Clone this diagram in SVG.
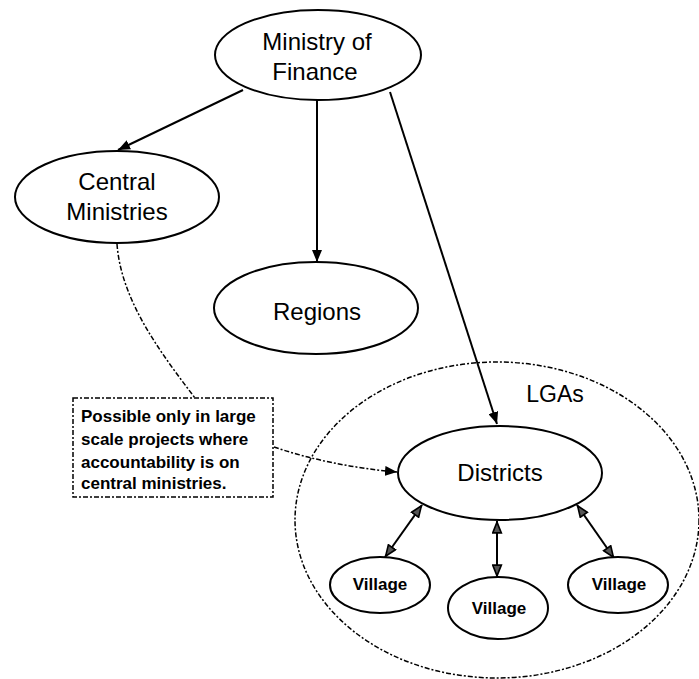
<svg xmlns="http://www.w3.org/2000/svg" width="699" height="679" viewBox="0 0 699 679">
<style>
.node{fill:#fff;stroke:#000;stroke-width:2}
.lbl{font-family:"Liberation Sans",Arial,sans-serif;fill:#000;text-anchor:middle}
.big{font-size:24px}
.vil{font-size:17px;font-weight:bold}
.note{font-family:"Liberation Sans",Arial,sans-serif;font-size:17px;font-weight:bold;fill:#000}
.arr{fill:none;stroke:#000;stroke-width:2}
.dash{fill:none;stroke:#000;stroke-width:1.5;stroke-dasharray:5 2 2 2}
</style>
<defs>
<marker id="ah" viewBox="0 0 12 10" refX="12" refY="5" markerWidth="12" markerHeight="10" markerUnits="userSpaceOnUse" orient="auto-start-reverse">
<path d="M0,0 L12,5 L0,10 z" fill="#000"/>
</marker>
<marker id="ah2" viewBox="0 0 12 10" refX="12" refY="5" markerWidth="13" markerHeight="11" markerUnits="userSpaceOnUse" orient="auto-start-reverse">
<path d="M1,1 L11,5 L1,9 z" fill="#555" stroke="#000" stroke-width="1.5"/>
</marker>
</defs>
<g id="lgas">
<ellipse cx="497" cy="520" rx="202" ry="158" class="dash"/>
<text x="555" y="402" class="lbl" style="font-size:23px">LGAs</text>
</g>
<g id="connectors">
<path d="M243,90 L118,150" class="arr" marker-end="url(#ah)"/>
<path d="M317,100 L317,262" class="arr" marker-end="url(#ah)"/>
<path d="M390,92 L497,424" class="arr" stroke-width="1.8" marker-end="url(#ah)"/>
<path d="M117,244 C121,300 160,352 195,398" class="dash"/>
<path d="M274,447 Q330,466 397,472" class="dash" marker-end="url(#ah)"/>
<path d="M422,505 L385,557" class="arr" marker-start="url(#ah2)" marker-end="url(#ah2)"/>
<path d="M497,521 L497,577" class="arr" marker-start="url(#ah2)" marker-end="url(#ah2)"/>
<path d="M577,505 L614,558" class="arr" marker-start="url(#ah2)" marker-end="url(#ah2)"/>
</g>
<g id="ministry-of-finance">
<ellipse cx="318" cy="55" rx="103" ry="45" class="node"/>
<text x="317" y="50" class="lbl big">Ministry of</text>
<text x="315" y="80" class="lbl big">Finance</text>
</g>
<g id="central-ministries">
<ellipse cx="117" cy="197" rx="102" ry="46" class="node"/>
<text x="117" y="190" class="lbl big">Central</text>
<text x="117" y="220" class="lbl big">Ministries</text>
</g>
<g id="regions">
<ellipse cx="316" cy="308" rx="102" ry="46" class="node"/>
<text x="317" y="320" class="lbl big">Regions</text>
</g>
<g id="note">
<rect x="73" y="398" width="200" height="99" fill="#fff" class="dash"/>
<text class="note"><tspan x="81" y="422">Possible only in large</tspan><tspan x="81" y="445">scale projects where</tspan><tspan x="81" y="468">accountability is on</tspan><tspan x="81" y="489">central ministries.</tspan></text>
</g>
<g id="districts">
<ellipse cx="500" cy="473" rx="102" ry="47" class="node"/>
<text x="500" y="481" class="lbl big">Districts</text>
</g>
<g id="village-left">
<ellipse cx="380" cy="585" rx="50" ry="28" class="node"/>
<text x="380" y="590" class="lbl vil">Village</text>
</g>
<g id="village-middle">
<ellipse cx="498" cy="608" rx="50" ry="31" class="node"/>
<text x="499" y="614" class="lbl vil">Village</text>
</g>
<g id="village-right">
<ellipse cx="618" cy="585" rx="50" ry="28" class="node"/>
<text x="619" y="590" class="lbl vil">Village</text>
</g>
</svg>
